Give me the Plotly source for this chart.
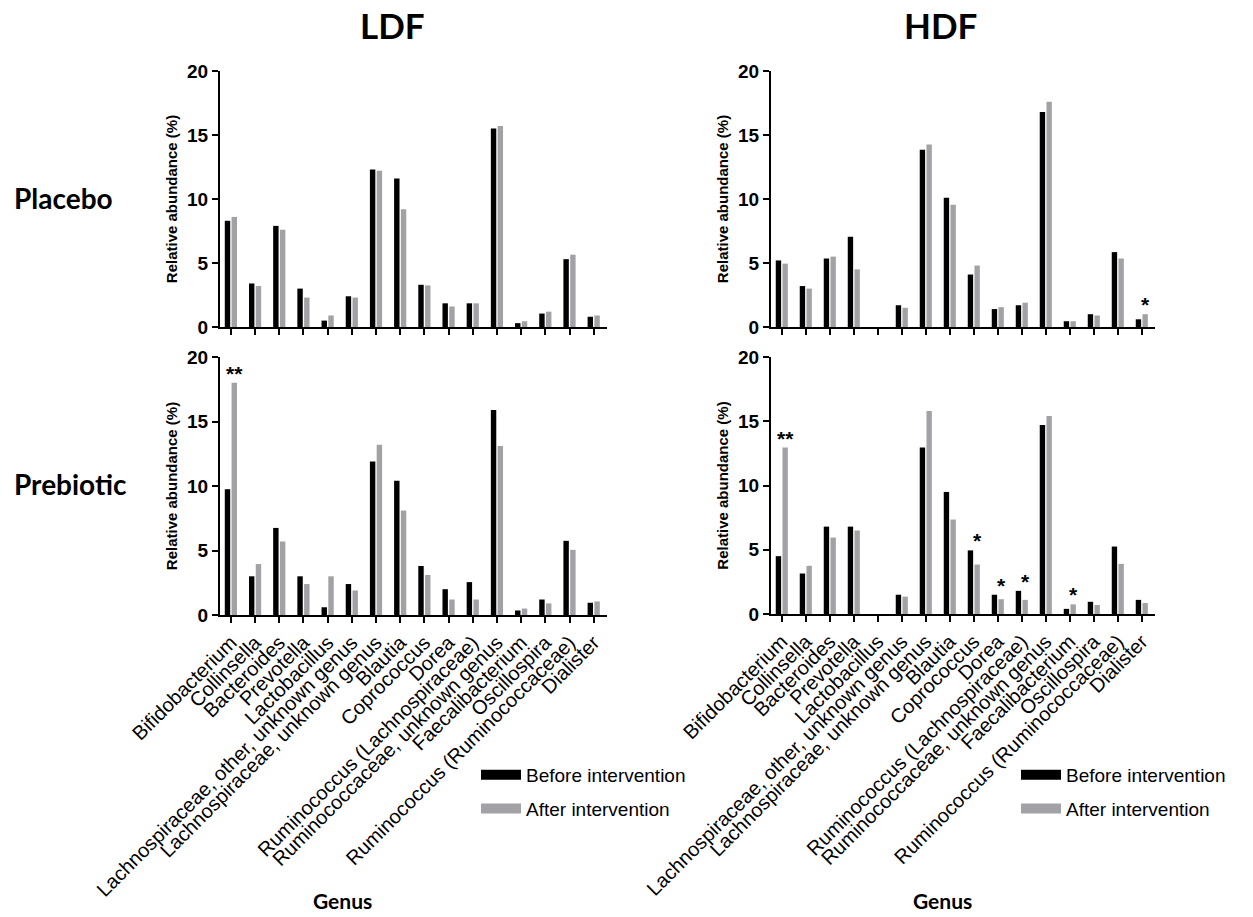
import plotly.graph_objects as go

genera = [
    "Bifidobacterium", "Collinsella", "Bacteroides", "Prevotella", "Lactobacillus",
    "Lachnospiraceae, other, unknown genus", "Lachnospiraceae, unknown genus",
    "Blautia", "Coprococcus", "Dorea", "Ruminococcus (Lachnospiraceae)",
    "Ruminococcaceae, unknown genus", "Faecalibacterium", "Oscillospira",
    "Ruminococcus (Ruminococcaceae)", "Dialister",
]

placebo_ldf_before = [8.3, 3.4, 7.9, 3.0, 0.5, 2.4, 12.3, 11.6, 3.3, 1.85, 1.85, 15.5, 0.3, 1.05, 5.3, 0.8]
placebo_ldf_after = [8.6, 3.2, 7.6, 2.3, 0.9, 2.3, 12.2, 9.2, 3.25, 1.6, 1.85, 15.7, 0.45, 1.2, 5.65, 0.9]
placebo_hdf_before = [5.2, 3.2, 5.35, 7.05, 0.0, 1.7, 13.85, 10.1, 4.1, 1.4, 1.7, 16.8, 0.45, 1.0, 5.85, 0.6]
placebo_hdf_after = [4.95, 3.0, 5.5, 4.5, 0.0, 1.5, 14.25, 9.55, 4.8, 1.55, 1.9, 17.6, 0.45, 0.9, 5.35, 1.0]
prebiotic_ldf_before = [9.75, 3.0, 6.75, 3.0, 0.6, 2.4, 11.9, 10.4, 3.8, 2.0, 2.55, 15.9, 0.35, 1.2, 5.75, 0.95]
prebiotic_ldf_after = [18.0, 3.95, 5.7, 2.4, 3.0, 1.9, 13.2, 8.1, 3.1, 1.2, 1.2, 13.1, 0.5, 0.9, 5.05, 1.05]
prebiotic_hdf_before = [4.5, 3.15, 6.8, 6.8, 0.0, 1.5, 12.95, 9.5, 4.95, 1.5, 1.8, 14.7, 0.4, 0.95, 5.25, 1.1]
prebiotic_hdf_after = [12.95, 3.75, 5.95, 6.5, 0.0, 1.35, 15.8, 7.35, 3.85, 1.15, 1.1, 15.4, 0.75, 0.7, 3.9, 0.85]

sig_placebo_ldf = ["", "", "", "", "", "", "", "", "", "", "", "", "", "", "", ""]
sig_placebo_hdf = ["", "", "", "", "", "", "", "", "", "", "", "", "", "", "", "*"]
sig_prebiotic_ldf = ["**", "", "", "", "", "", "", "", "", "", "", "", "", "", "", ""]
sig_prebiotic_hdf = ["**", "", "", "", "", "", "", "", "*", "*", "*", "", "*", "", "", ""]

series_names = ["Before intervention", "After intervention"]
col_titles = ["LDF", "HDF"]
row_titles = ["Placebo", "Prebiotic"]
y_ticks = [0, 5, 10, 15, 20]

BLACK = "#000000"
GREY = "#a2a2a6"
ARIAL = "Arial, Liberation Sans, sans-serif"
TITLEFONT = "Lato, Open Sans, sans-serif"

W, H = 1253, 917

panels = [
    # (axis suffix, before, after, sig, x-domain px, y-domain px, show labels)
    ("", placebo_ldf_before, placebo_ldf_after, sig_placebo_ldf, (220, 607), (71, 327), False),
    ("2", placebo_hdf_before, placebo_hdf_after, sig_placebo_hdf, (771, 1155), (71, 327), False),
    ("3", prebiotic_ldf_before, prebiotic_ldf_after, sig_prebiotic_ldf, (220, 607), (357, 615), True),
    ("4", prebiotic_hdf_before, prebiotic_hdf_after, sig_prebiotic_hdf, (771, 1155), (357, 614), True),
]

fig = go.Figure()
annotations = []
layout_axes = {}

for suffix, before, after, sig, xd, yd, show_labels in panels:
    xa = "x" + suffix
    ya = "y" + suffix
    fig.add_trace(go.Bar(x=genera, y=before, name=series_names[0], marker=dict(color=BLACK, line=dict(width=0)),
                         xaxis=xa, yaxis=ya, showlegend=False))
    fig.add_trace(go.Bar(x=genera, y=after, name=series_names[1], marker=dict(color=GREY, line=dict(width=0)),
                         xaxis=xa, yaxis=ya, showlegend=False))
    layout_axes["xaxis" + suffix] = dict(
        domain=[xd[0] / W, xd[1] / W], anchor=ya, type="category",
        tickmode="array", tickvals=genera, ticktext=genera,
        range=[-0.45, 15.55], showline=True, linecolor="black", linewidth=2,
        ticks="outside", ticklen=6, tickwidth=2, tickcolor="black",
        showticklabels=show_labels, tickangle=-45,
        tickfont=dict(family=ARIAL, size=20, color="black"),
        showgrid=False, zeroline=False, automargin=False,
    )
    layout_axes["yaxis" + suffix] = dict(
        domain=[1 - yd[1] / H, 1 - yd[0] / H], anchor=xa,
        range=[0, 20], tickvals=y_ticks, showline=True, linecolor="black", linewidth=2,
        ticks="outside", ticklen=6, tickwidth=2, tickcolor="black",
        tickfont=dict(family=ARIAL, size=19, color="black", weight="bold"),
        title=dict(text="<b>Relative abundance (%)</b>", font=dict(family=ARIAL, size=15, color="black"), standoff=6),
        showgrid=False, zeroline=False, automargin=False,
    )
    for g, b, a, s in zip(genera, before, after, sig):
        if s:
            annotations.append(dict(
                x=g, y=max(a, b), xref=xa, yref=ya, text="<b>" + s + "</b>",
                showarrow=False, yanchor="bottom", xanchor="center", xshift=4, yshift=-4,
                font=dict(family=ARIAL, size=21, color="black"),
            ))

# Legend entries (one legend per column)
for leg in ["legend", "legend2"]:
    xa = "x3" if leg == "legend" else "x4"
    ya = "y3" if leg == "legend" else "y4"
    for name, col in zip(series_names, [BLACK, GREY]):
        fig.add_trace(go.Scatter(x=[None], y=[None], mode="lines", name=name,
                                 line=dict(color=col, width=12), xaxis=xa, yaxis=ya,
                                 legend=leg, legendgroup=leg + name, showlegend=True,
                                 hoverinfo="skip"))

# Column headers
for txt, cx in zip(col_titles, [392, 940]):
    annotations.append(dict(x=cx / W, y=1 - 25 / H, xref="paper", yref="paper", text="<b>" + txt + "</b>",
                            showarrow=False, xanchor="center", yanchor="middle",
                            font=dict(family=TITLEFONT, size=35, color="black")))
# Row headers
for txt, cy in zip(row_titles, [198, 484]):
    annotations.append(dict(x=12 / W, y=1 - cy / H, xref="paper", yref="paper", text="<b>" + txt + "</b>",
                            showarrow=False, xanchor="left", yanchor="middle",
                            font=dict(family=TITLEFONT, size=28, color="black")))
# Genus labels
for cx in [342, 942]:
    annotations.append(dict(x=cx / W, y=1 - 900 / H, xref="paper", yref="paper", text="<b>Genus</b>",
                            showarrow=False, xanchor="center", yanchor="middle",
                            font=dict(family=TITLEFONT, size=21, color="black")))

legend_common = dict(
    xanchor="left", yanchor="top", bgcolor="rgba(0,0,0,0)", borderwidth=0,
    font=dict(family=ARIAL, size=19, color="black"), tracegroupgap=6,
    traceorder="grouped", itemwidth=40,
)

fig.update_layout(
    width=W, height=H,
    margin=dict(l=0, r=0, t=0, b=0),
    paper_bgcolor="white", plot_bgcolor="white",
    barmode="group", bargap=0.44, bargroupgap=0.2,
    annotations=annotations,
    legend=dict(x=476 / W, y=1 - 756 / H, **legend_common),
    legend2=dict(x=1016 / W, y=1 - 756 / H, **legend_common),
    **layout_axes,
)

fig.write_html("out.html", config={"displayModeBar": False},
               post_script="document.body.style.margin='0';document.body.style.overflow='hidden';")
